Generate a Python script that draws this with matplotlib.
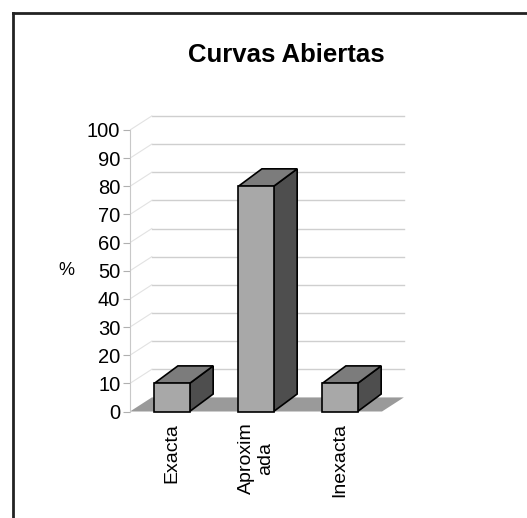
import matplotlib
matplotlib.use('Agg')
import matplotlib.pyplot as plt
from matplotlib.patches import Polygon, Rectangle
from matplotlib.lines import Line2D

plt.rcParams['font.family'] = ['Liberation Sans', 'DejaVu Sans']

# datos
categorias = ['Exacta', 'Aproxim\nada', 'Inexacta']
porcentajes = [10, 80, 10]
marcas_y = [0, 10, 20, 30, 40, 50, 60, 70, 80, 90, 100]

# geometria del efecto 3D (unidades de datos)
ancho = 0.42
prof_x, prof_y = 0.28, 6.2        # profundidad de las columnas
pared_x, pared_y = 0.26, 5.0      # desplazamiento del plano del fondo

c_frente = '#a8a8a8'
c_tapa = '#7c7c7c'
c_lado = '#4e4e4e'
c_piso = '#9a9a9a'
c_grid = '#cfcfcf'

W, H = 527, 518
fig = plt.figure(figsize=(W / 100, H / 100), dpi=100)

# ejes: 84 px por categoria, 2.815 px por unidad de %
px_cat, px_val = 84.0, 2.815
x0, x1 = -0.5, 2.9
y0, y1 = -3, 108
izq = 130
base = (H - 411.5) - (0 - y0) * px_val
ax = fig.add_axes([izq / W, base / H, (x1 - x0) * px_cat / W, (y1 - y0) * px_val / H])
ax.set_xlim(x0, x1)
ax.set_ylim(y0, y1)

# piso
xi, xf = -0.5, 2.5
ax.add_patch(Polygon([(xi, 0), (xf, 0), (xf + pared_x, pared_y), (xi + pared_x, pared_y)],
                     closed=True, facecolor=c_piso, edgecolor='none', zorder=1))

# lineas de division en la pared del fondo y en la pared lateral
for v in marcas_y[1:]:
    ax.plot([xi + pared_x, xf + pared_x], [v + pared_y, v + pared_y],
            color=c_grid, lw=1.0, zorder=0.5)
    ax.plot([xi, xi + pared_x], [v, v + pared_y], color='#e2e2e2', lw=0.8, zorder=0.5)

# columnas
for i, v in enumerate(porcentajes):
    a, b = i - ancho / 2, i + ancho / 2
    ax.add_patch(Polygon([(b, 0), (b + prof_x, prof_y), (b + prof_x, v + prof_y), (b, v)],
                         closed=True, facecolor=c_lado, edgecolor='black', lw=1.2, zorder=3))
    ax.add_patch(Polygon([(a, v), (b, v), (b + prof_x, v + prof_y), (a + prof_x, v + prof_y)],
                         closed=True, facecolor=c_tapa, edgecolor='black', lw=1.2, zorder=3))
    ax.add_patch(Rectangle((a, 0), ancho, v, facecolor=c_frente,
                           edgecolor='black', lw=1.2, zorder=4))

# eje vertical
for lado in ['top', 'right', 'bottom']:
    ax.spines[lado].set_visible(False)
ax.spines['left'].set_bounds(0, 100)
ax.spines['left'].set_color('#c8c8c8')
ax.set_yticks(marcas_y)
ax.tick_params(axis='y', length=5, width=0.8, color='#b0b0b0', labelsize=14.5, pad=2)
ax.set_ylabel('%', rotation=0, fontsize=13, va='center', ha='center')
ax.yaxis.set_label_coords(-64 / ((x1 - x0) * px_cat), (50 - y0) / (y1 - y0))

ax.set_xticks(range(len(categorias)))
ax.set_xticklabels(categorias, rotation=90, fontsize=14, va='top', ha='center',
                   multialignment='center')
ax.tick_params(axis='x', length=0, pad=2)

fig.text(286.5 / W, 1 - 55.5 / H, 'Curvas Abiertas', fontsize=18.5, fontweight='bold',
         ha='center', va='center')

# marco del grafico
fig.add_artist(Line2D([12.5 / W, 12.5 / W], [0, 1 - 12.5 / H], color='#222222', lw=2))
fig.add_artist(Line2D([12.5 / W, 1], [1 - 12.5 / H, 1 - 12.5 / H], color='#222222', lw=2))

fig.savefig('out.png', dpi=100)
